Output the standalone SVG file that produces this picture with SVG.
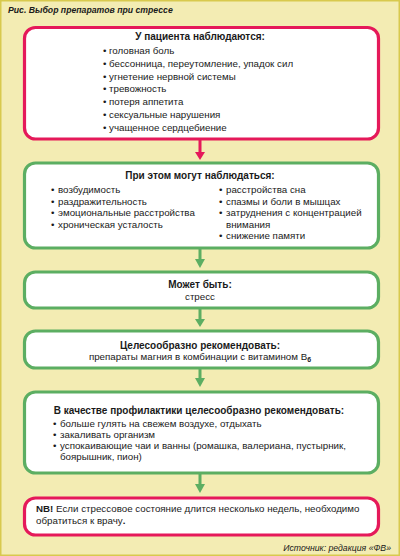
<svg xmlns="http://www.w3.org/2000/svg" width="400" height="556" viewBox="0 0 400 556">
<defs>
<style>
text{font-family:"Liberation Sans",Arial,sans-serif;font-size:9.75px;fill:#1a1a1a}
.h{font-weight:bold;font-size:10px;text-anchor:middle}
.c{text-anchor:middle}
.red{fill:#fff;stroke:#e5195a;stroke-width:3.2}
.grn{fill:#fff;stroke:#5cae62;stroke-width:3.2}
.ar{fill:#5cae62}
.arr{fill:#e5195a}
.cap{font-weight:bold;font-style:italic;font-size:8.7px}
.src{font-style:italic;font-size:8.7px;text-anchor:end}
</style>
</defs>
<rect x="0.75" y="0.75" width="398.5" height="554.5" fill="#f3ecb3" stroke="#d8c94e" stroke-width="1.5"/>
<text class="cap" x="8" y="13">Рис. Выбор препаратов при стрессе</text>

<g id="connectors">
<g class="arr"><rect x="198.5" y="140" width="3" height="13"/><polygon points="195,152 205,152 200,160"/></g>
<g class="ar"><rect x="198.5" y="249" width="3" height="11"/><polygon points="195,259 205,259 200,268"/></g>
<g class="ar"><rect x="198.5" y="309" width="3" height="11"/><polygon points="195,319 205,319 200,327"/></g>
<g class="ar"><rect x="198.5" y="369" width="3" height="10"/><polygon points="195,378 205,378 200,387"/></g>
<g class="ar"><rect x="198.5" y="474" width="3" height="11"/><polygon points="195,484 205,484 200,493"/></g>
</g>

<g id="n1">
<rect class="red" x="24.5" y="27.5" width="354" height="111.5" rx="11"/>
<text class="h" x="200" y="40">У пациента наблюдаются:</text>
<text x="103" y="54">•<tspan x="109">головная боль</tspan></text>
<text x="103" y="66.8">•<tspan x="109">бессонница, переутомление, упадок сил</tspan></text>
<text x="103" y="79.6">•<tspan x="109">угнетение нервной системы</tspan></text>
<text x="103" y="92.4">•<tspan x="109">тревожность</tspan></text>
<text x="103" y="105.2">•<tspan x="109">потеря аппетита</tspan></text>
<text x="103" y="118">•<tspan x="109">сексуальные нарушения</tspan></text>
<text x="103" y="130.8">•<tspan x="109">учащенное сердцебиение</tspan></text>
</g>

<g id="n2">
<rect class="grn" x="24.5" y="163" width="354" height="85" rx="11"/>
<text class="h" x="200" y="179">При этом могут наблюдаться:</text>
<text x="51" y="193">•<tspan x="58">возбудимость</tspan></text>
<text x="51" y="204.5">•<tspan x="58">раздражительность</tspan></text>
<text x="51" y="216">•<tspan x="58">эмоциональные расстройства</tspan></text>
<text x="51" y="227.5">•<tspan x="58">хроническая усталость</tspan></text>
<text x="219" y="193">•<tspan x="226">расстройства сна</tspan></text>
<text x="219" y="204.5">•<tspan x="226">спазмы и боли в мышцах</tspan></text>
<text x="219" y="216">•<tspan x="226">затруднения с концентрацией</tspan></text>
<text x="226" y="227.5">внимания</text>
<text x="219" y="239">•<tspan x="226">снижение памяти</tspan></text>
</g>

<g id="n3">
<rect class="grn" x="24.5" y="272" width="354" height="36" rx="11"/>
<text class="h" x="200" y="288">Может быть:</text>
<text class="c" x="200" y="299.5">стресс</text>
</g>

<g id="n4">
<rect class="grn" x="24.5" y="331" width="354" height="37" rx="11"/>
<text class="h" x="200" y="349">Целесообразно рекомендовать:</text>
<text class="c" x="200" y="360">препараты магния в комбинации с витамином B<tspan font-size="7" dy="2" font-weight="bold">6</tspan></text>
</g>

<g id="n5">
<rect class="grn" x="24.5" y="392" width="354" height="81" rx="11"/>
<text class="h" x="199" y="414">В качестве профилактики целесообразно рекомендовать:</text>
<text x="53" y="426.5">•<tspan x="60">больше гулять на свежем воздухе, отдыхать</tspan></text>
<text x="53" y="437.5">•<tspan x="60">закаливать организм</tspan></text>
<text x="53" y="448.5">•<tspan x="60">успокаивающие чаи и ванны (ромашка, валериана, пустырник,</tspan></text>
<text x="60" y="459.5">боярышник, пион)</text>
</g>

<g id="n6">
<rect class="red" x="24.5" y="498" width="354" height="37" rx="11"/>
<text x="36" y="512"><tspan font-weight="bold">NB!</tspan> Если стрессовое состояние длится несколько недель, необходимо</text>
<text x="36" y="524">обратиться к врачу<tspan font-weight="bold">.</tspan></text>
</g>

<text class="src" x="391" y="551">Источник: редакция «ФВ»</text>
</svg>
